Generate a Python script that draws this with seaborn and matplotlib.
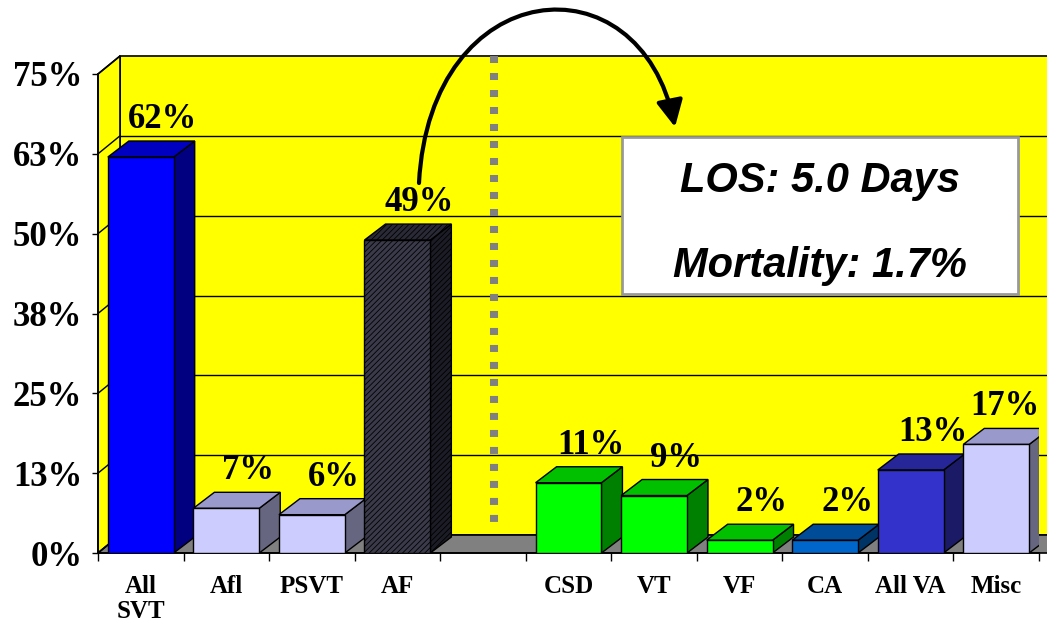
import numpy as np
import pandas as pd
import seaborn as sns
import matplotlib.pyplot as plt
from matplotlib.patches import Polygon, Rectangle, FancyArrowPatch
from matplotlib.path import Path

# data
categories = ['All\nSVT', 'Afl', 'PSVT', 'AF', ' ', 'CSD', 'VT', 'VF', 'CA', 'All VA', 'Misc']
values = [62, 7, 6, 49, np.nan, 11, 9, 2, 2, 13, 17]
y_ticks = [0, 12.5, 25, 37.5, 50, 62.5, 75]
y_labels = ['0%', '13%', '25%', '38%', '50%', '63%', '75%']
los_text = 'LOS: 5.0 Days'
mortality_text = 'Mortality: 1.7%'

# colours (front / top / side faces)
front_colors = ['#0000FF', '#CCCCFF', '#CCCCFF', '#3A3A4A', '#808080',
                '#00FF00', '#00FF00', '#00FF00', '#0066CC', '#3333CC', '#CCCCFF']
top_colors = ['#0000C0', '#9999CC', '#9999CC', '#2A2A36', '#808080',
              '#00C000', '#00C000', '#00C000', '#004C99', '#262699', '#9999CC']
side_colors = ['#000080', '#666680', '#666680', '#1C1C26', '#808080',
               '#008000', '#008000', '#008000', '#003366', '#1A1A66', '#666680']

sns.set_style('white')
plt.rcParams['font.family'] = ['Liberation Serif', 'DejaVu Serif']
plt.rcParams['text.color'] = 'black'
plt.rcParams['hatch.linewidth'] = 0.6

fig = plt.figure(figsize=(10.47, 6.29), dpi=100)
ax = fig.add_axes([98 / 1047, 76 / 629, (1039 - 98) / 1047, (553 - 74) / 629])
ax.set_xlim(-0.5, 10.5)
ax.set_ylim(0, 75)
ax.patch.set_visible(False)

# pixel -> data helpers for the 3D look
ppx = ax.bbox.width / 11
ppy = ax.bbox.height / 75
wall_dx, wall_dy = 22 / ppx, 18 / ppy
bar_dx, bar_dy = 21 / ppx, 16 / ppy

# back wall, left wall, floor
ax.add_patch(Polygon([(-0.5 + wall_dx, wall_dy), (12, wall_dy), (12, 75 + wall_dy),
                      (-0.5 + wall_dx, 75 + wall_dy)], closed=True, fc='#FFFF00',
                     ec='black', lw=1.2, clip_on=False, zorder=0))
ax.add_patch(Polygon([(-0.5, 0), (-0.5, 75), (-0.5 + wall_dx, 75 + wall_dy),
                      (-0.5 + wall_dx, wall_dy)], closed=True, fc='#FFFF00',
                     ec='black', lw=1.2, clip_on=False, zorder=0))
ax.add_patch(Polygon([(-0.5, 0), (12, 0), (12, wall_dy), (-0.5 + wall_dx, wall_dy)],
                     closed=True, fc='#808080', ec='black', lw=1.2, clip_on=False, zorder=0.5))
for t in y_ticks:
    ax.plot([-0.5, -0.5 + wall_dx], [t, t + wall_dy], color='black', lw=1, clip_on=False, zorder=0.6)
    if 0 < t < 75:
        ax.plot([-0.5 + wall_dx, 12], [t + wall_dy] * 2, color='black', lw=1, clip_on=False, zorder=0.6)

# dotted divider
ax.plot([4 + wall_dx / 2] * 2, [75 + wall_dy, 1.3 + wall_dy], color='#808080', lw=5.8,
        dashes=(0.87, 1.24), dash_capstyle='butt', clip_on=False, zorder=0.7)

# bars
df = pd.DataFrame({'category': categories, 'value': values})
sns.barplot(data=df, x='category', y='value', hue='category', order=categories,
            hue_order=categories, palette=dict(zip(categories, front_colors)),
            width=0.77, saturation=1, edgecolor='black', linewidth=1,
            legend=False, ax=ax, zorder=3)

for cont in ax.containers:
    for p in cont:
        h = p.get_height()
        if np.isnan(h) or h <= 0:
            continue
        x0 = p.get_x()
        x1 = x0 + p.get_width()
        i = int(round(x0 + p.get_width() / 2))
        side = Polygon([(x1, 0), (x1, h), (x1 + bar_dx, h + bar_dy), (x1 + bar_dx, bar_dy)],
                       closed=True, fc=side_colors[i], ec='black', lw=1, zorder=2)
        top = Polygon([(x0, h), (x1, h), (x1 + bar_dx, h + bar_dy), (x0 + bar_dx, h + bar_dy)],
                      closed=True, fc=top_colors[i], ec='black', lw=1, zorder=2)
        ax.add_patch(side)
        ax.add_patch(top)
        if categories[i] == 'AF':
            p.set_hatch('//////')
            side.set_hatch('//////')
            top.set_hatch('//////')
        # keep the label inside the figure on the right
        lx = min((x0 + x1) / 2 + 22 / ppx, 10.1)
        ax.text(lx, h + 29 / ppy, f'{h:.0f}%', ha='center', va='baseline',
                fontsize=25, fontweight='bold', color='black', zorder=5)

# axes / ticks
ax.set_xlabel('')
ax.set_ylabel('')
sns.despine(ax=ax)
for s in ['left', 'bottom']:
    ax.spines[s].set_color('black')
    ax.spines[s].set_linewidth(1.2)
ax.set_yticks(y_ticks, y_labels)
ax.tick_params(axis='y', left=True, length=4.3, width=1, pad=7, color='black',
               labelsize=25, labelcolor='black')
for lbl in ax.get_yticklabels():
    lbl.set_fontweight('bold')
ax.set_xticks(range(len(categories)), categories)
ax.set_xticks(np.arange(-0.5, len(categories), 1), minor=True)
ax.tick_params(axis='x', which='major', length=0, pad=16, labelsize=18, labelcolor='black')
ax.tick_params(axis='x', which='minor', bottom=True, length=6, width=1, color='black')
for lbl in ax.get_xticklabels():
    lbl.set_fontweight('bold')
    lbl.set_linespacing(1.1)

# LOS / mortality box
fig.add_artist(Rectangle((6.22, 3.35), 3.96, 1.57, transform=fig.dpi_scale_trans,
                         fc='white', ec='#999999', lw=2, zorder=6))
fig.text(8.20, 4.37, los_text, transform=fig.dpi_scale_trans, ha='center', va='baseline',
         fontsize=30, fontweight='bold', fontstyle='italic', color='black',
         family=['Liberation Sans', 'DejaVu Sans'], zorder=7)
fig.text(8.20, 3.52, mortality_text, transform=fig.dpi_scale_trans, ha='center', va='baseline',
         fontsize=30, fontweight='bold', fontstyle='italic', color='black',
         family=['Liberation Sans', 'DejaVu Sans'], zorder=7)

# curved arrow
verts = [(4.19, 4.46), (4.30, 6.55), (6.40, 6.75), (6.75, 5.02)]
codes = [Path.MOVETO, Path.CURVE4, Path.CURVE4, Path.CURVE4]
arrow = FancyArrowPatch(path=Path(verts, codes), arrowstyle='-|>,head_length=0.8,head_width=0.4',
                        mutation_scale=20, lw=3, color='black', shrinkA=0, shrinkB=0,
                        transform=fig.dpi_scale_trans, zorder=8)
fig.add_artist(arrow)

fig.savefig('out.png', dpi=100)
